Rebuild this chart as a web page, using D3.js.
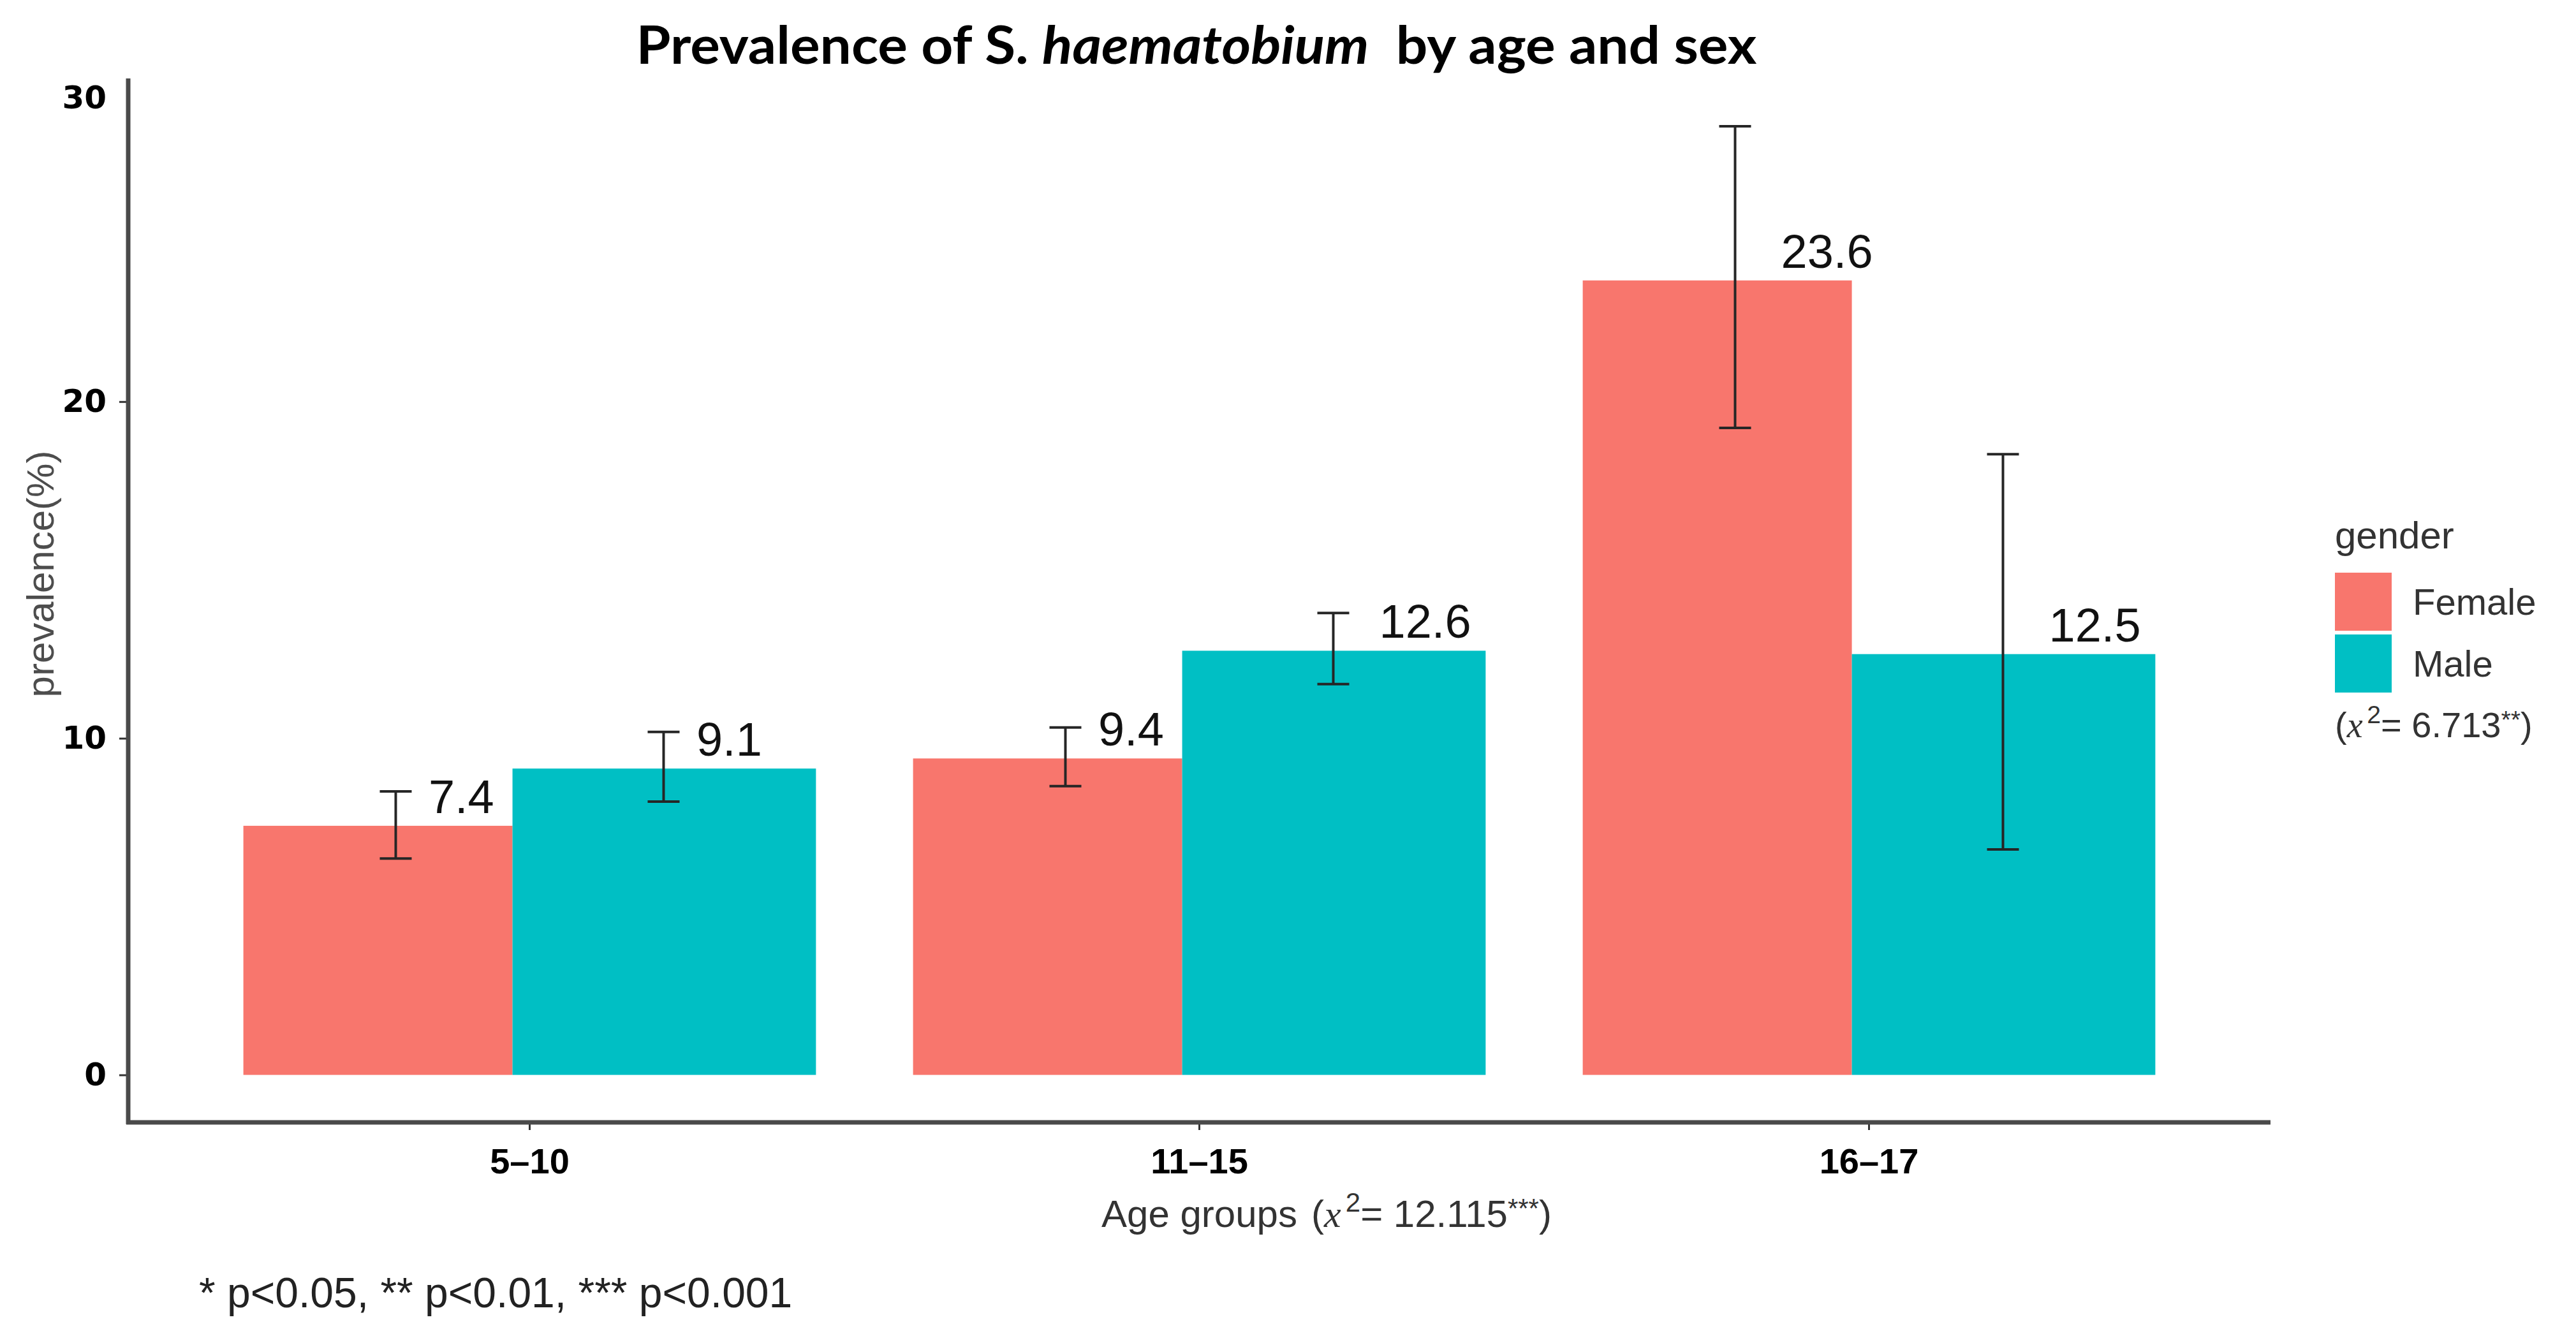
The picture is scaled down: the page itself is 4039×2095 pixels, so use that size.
<!DOCTYPE html>
<html>
<head>
<meta charset="utf-8">
<script src="https://cdn.jsdelivr.net/npm/d3@7/dist/d3.min.js"></script>
<style>
  html, body { margin: 0; padding: 0; background: #fff; }
  svg { display: block; }
  text { white-space: pre; }
</style>
</head>
<body>
<div id="chart"></div>
<script>
// data
const ageGroups = ["5–10", "11–15", "16–17"];
const genders = ["Female", "Male"];
const femaleValues = [7.4, 9.4, 23.6];
const maleValues = [9.1, 12.6, 12.5];
const femaleLow = [6.43, 8.58, 19.22];
const femaleHigh = [8.42, 10.32, 28.18];
const maleLow = [8.12, 11.61, 6.70];
const maleHigh = [10.19, 13.72, 18.44];
const yTicks = [0, 10, 20, 30];
const colors = ["#F8766D", "#00BFC4"];

const width = 4039, height = 2095;
const panel = { left: 201, right: 3560, top: 123, bottom: 1760 };

const svg = d3.select("#chart").append("svg")
    .attr("width", width)
    .attr("height", height)
    .style("background", "#fff");

// build rows from the arrays
const rows = [];
ageGroups.forEach((g, i) => {
    rows.push({ group: g, gender: "Female", value: femaleValues[i], low: femaleLow[i], high: femaleHigh[i] });
    rows.push({ group: g, gender: "Male", value: maleValues[i], low: maleLow[i], high: maleHigh[i] });
});

const x = d3.scaleBand()
    .domain(ageGroups)
    .range([panel.left, panel.right])
    .paddingInner(0.145)
    .paddingOuter(0.172);

// female bar takes a bit less than half of each group in the reference
const femaleShare = 0.47;
const barX = d => d.gender === "Female" ? x(d.group) : x(d.group) + x.bandwidth() * femaleShare;
const barW = d => d.gender === "Female" ? x.bandwidth() * femaleShare : x.bandwidth() * (1 - femaleShare);

// error bars sit at +/- 0.2 step from the group centre
const xErr = d3.scalePoint()
    .domain(genders)
    .range([-0.2 * x.step(), 0.2 * x.step()]);
const errX = d => x(d.group) + x.bandwidth() / 2 + xErr(d.gender);

const y = d3.scaleLinear()
    .domain([-1.41, 29.6])
    .range([panel.bottom, panel.top]);

const color = d3.scaleOrdinal().domain(genders).range(colors);

// bars
svg.append("g")
    .selectAll("rect")
    .data(rows)
    .join("rect")
    .attr("x", barX)
    .attr("y", d => y(d.value))
    .attr("width", barW)
    .attr("height", d => y(0) - y(d.value))
    .attr("fill", d => color(d.gender));

// error bars
const capW = 50;
const err = svg.append("g")
    .attr("stroke", "#262626")
    .attr("stroke-width", 4)
    .selectAll("g")
    .data(rows)
    .join("g");
err.append("line")
    .attr("x1", errX).attr("x2", errX)
    .attr("y1", d => y(d.low)).attr("y2", d => y(d.high));
err.append("line")
    .attr("x1", d => errX(d) - capW / 2).attr("x2", d => errX(d) + capW / 2)
    .attr("y1", d => y(d.high)).attr("y2", d => y(d.high));
err.append("line")
    .attr("x1", d => errX(d) - capW / 2).attr("x2", d => errX(d) + capW / 2)
    .attr("y1", d => y(d.low)).attr("y2", d => y(d.low));

// value labels (hjust = -0.5 from the error bar)
svg.append("g")
    .selectAll("text")
    .data(rows)
    .join("text")
    .attr("y", d => y(d.value) - 20)
    .attr("font-family", "Liberation Sans, Arial, sans-serif")
    .attr("font-size", 74)
    .attr("fill", "#111")
    .text(d => d.value.toFixed(1))
    .each(function(d) {
        const w = this.getComputedTextLength();
        d3.select(this).attr("x", errX(d) + w * 0.5);
    });

// y axis
const yAxis = svg.append("g")
    .attr("transform", `translate(${panel.left},0)`)
    .call(d3.axisLeft(y).tickValues(yTicks).tickSize(14).tickPadding(20).tickFormat(d3.format("d")));
yAxis.select(".domain").remove();
yAxis.selectAll(".tick line").attr("stroke", "#333").attr("stroke-width", 3);
yAxis.selectAll(".tick text")
    .attr("font-family", "DejaVu Sans, Verdana, sans-serif")
    .attr("font-weight", "bold")
    .attr("font-size", 50)
    .attr("fill", "#000");
// the 30 label sits below its place, outside the panel, with no tick
yAxis.selectAll(".tick").filter(d => d === 30).select("line").remove();
yAxis.selectAll(".tick").filter(d => d === 30).select("text").attr("dy", "1.35em");

// x axis
const xAxis = svg.append("g")
    .attr("transform", `translate(0,${panel.bottom})`)
    .call(d3.axisBottom(x).tickSize(12).tickPadding(28));
xAxis.select(".domain").remove();
xAxis.selectAll(".tick line").attr("stroke", "#333").attr("stroke-width", 3);
xAxis.selectAll(".tick text")
    .attr("font-family", "Liberation Sans, Arial, sans-serif")
    .attr("font-weight", "bold")
    .attr("font-size", 56)
    .attr("fill", "#000");

// axis lines
svg.append("line")
    .attr("x1", panel.left).attr("x2", panel.left)
    .attr("y1", panel.top).attr("y2", panel.bottom + 3)
    .attr("stroke", "#4a4a4a").attr("stroke-width", 7);
svg.append("line")
    .attr("x1", panel.left - 3).attr("x2", panel.right)
    .attr("y1", panel.bottom).attr("y2", panel.bottom)
    .attr("stroke", "#4a4a4a").attr("stroke-width", 7);

// chi-square expression: (x^2= value stars)
function chiText(sel, value, stars, fs) {
    sel.attr("font-family", "Liberation Sans, Arial, sans-serif")
        .attr("font-size", fs)
        .attr("fill", "#333");
    sel.append("tspan").text("(");
    sel.append("tspan").attr("font-family", "Liberation Serif, serif").attr("font-style", "italic").text("x");
    sel.append("tspan").attr("font-size", fs * 0.7).attr("dy", -fs * 0.4).attr("dx", fs * 0.12).text("2");
    sel.append("tspan").attr("dy", fs * 0.4).text("= " + value);
    sel.append("tspan").attr("font-size", fs * 0.7).attr("dy", -fs * 0.25).text(stars);
    sel.append("tspan").attr("dy", fs * 0.25).text(")");
}

// title
const title = svg.append("text")
    .attr("x", 1876)
    .attr("y", 100)
    .attr("text-anchor", "middle")
    .attr("font-family", "Lato, Open Sans, sans-serif")
    .attr("font-weight", "bold")
    .attr("font-size", 82)
    .attr("fill", "#000");
title.append("tspan").text("Prevalence of S. ");
title.append("tspan").attr("font-style", "italic").text("haematobium");
title.append("tspan").text("  by age and sex");
title.attr("textLength", 1757).attr("lengthAdjust", "spacingAndGlyphs");

// y title
svg.append("text")
    .attr("transform", "translate(84,900) rotate(-90)")
    .attr("text-anchor", "middle")
    .attr("font-family", "Liberation Sans, Arial, sans-serif")
    .attr("font-size", 60)
    .attr("fill", "#4d4d4d")
    .text("prevalence(%)");

// x title
const xTitle = svg.append("text")
    .attr("x", (panel.left + panel.right) / 2)
    .attr("y", 1924)
    .attr("text-anchor", "middle")
    .attr("font-family", "Liberation Sans, Arial, sans-serif")
    .attr("font-size", 60)
    .attr("fill", "#333")
    .text("Age groups");
const xTitleEnd = xTitle.node().getBBox();
svg.append("text")
    .attr("x", xTitleEnd.x + xTitleEnd.width + 22)
    .attr("y", 1924)
    .call(chiText, "12.115", "***", 60);

// legend
const legend = svg.append("g").attr("transform", "translate(3661,0)");
legend.append("text")
    .attr("x", 0).attr("y", 860)
    .attr("font-family", "Liberation Sans, Arial, sans-serif")
    .attr("font-size", 60)
    .attr("fill", "#333")
    .text("gender");
const keyY = d3.scaleBand().domain(genders).range([898, 1086]).paddingInner(0.06);
legend.selectAll("rect")
    .data(genders)
    .join("rect")
    .attr("x", 0)
    .attr("y", d => keyY(d))
    .attr("width", 89)
    .attr("height", keyY.bandwidth())
    .attr("fill", d => color(d));
legend.selectAll("text.key")
    .data(genders)
    .join("text")
    .attr("class", "key")
    .attr("x", 122)
    .attr("y", d => keyY(d) + keyY.bandwidth() / 2)
    .attr("dy", "0.36em")
    .attr("font-family", "Liberation Sans, Arial, sans-serif")
    .attr("font-size", 58)
    .attr("fill", "#333")
    .text(d => d);
legend.append("text")
    .attr("x", 0).attr("y", 1156)
    .call(chiText, "6.713", "**", 56);

// footnote
svg.append("text")
    .attr("x", 312)
    .attr("y", 2050)
    .attr("font-family", "Liberation Sans, Arial, sans-serif")
    .attr("font-size", 66)
    .attr("fill", "#222")
    .text("* p<0.05, ** p<0.01, *** p<0.001");
</script>
</body>
</html>
